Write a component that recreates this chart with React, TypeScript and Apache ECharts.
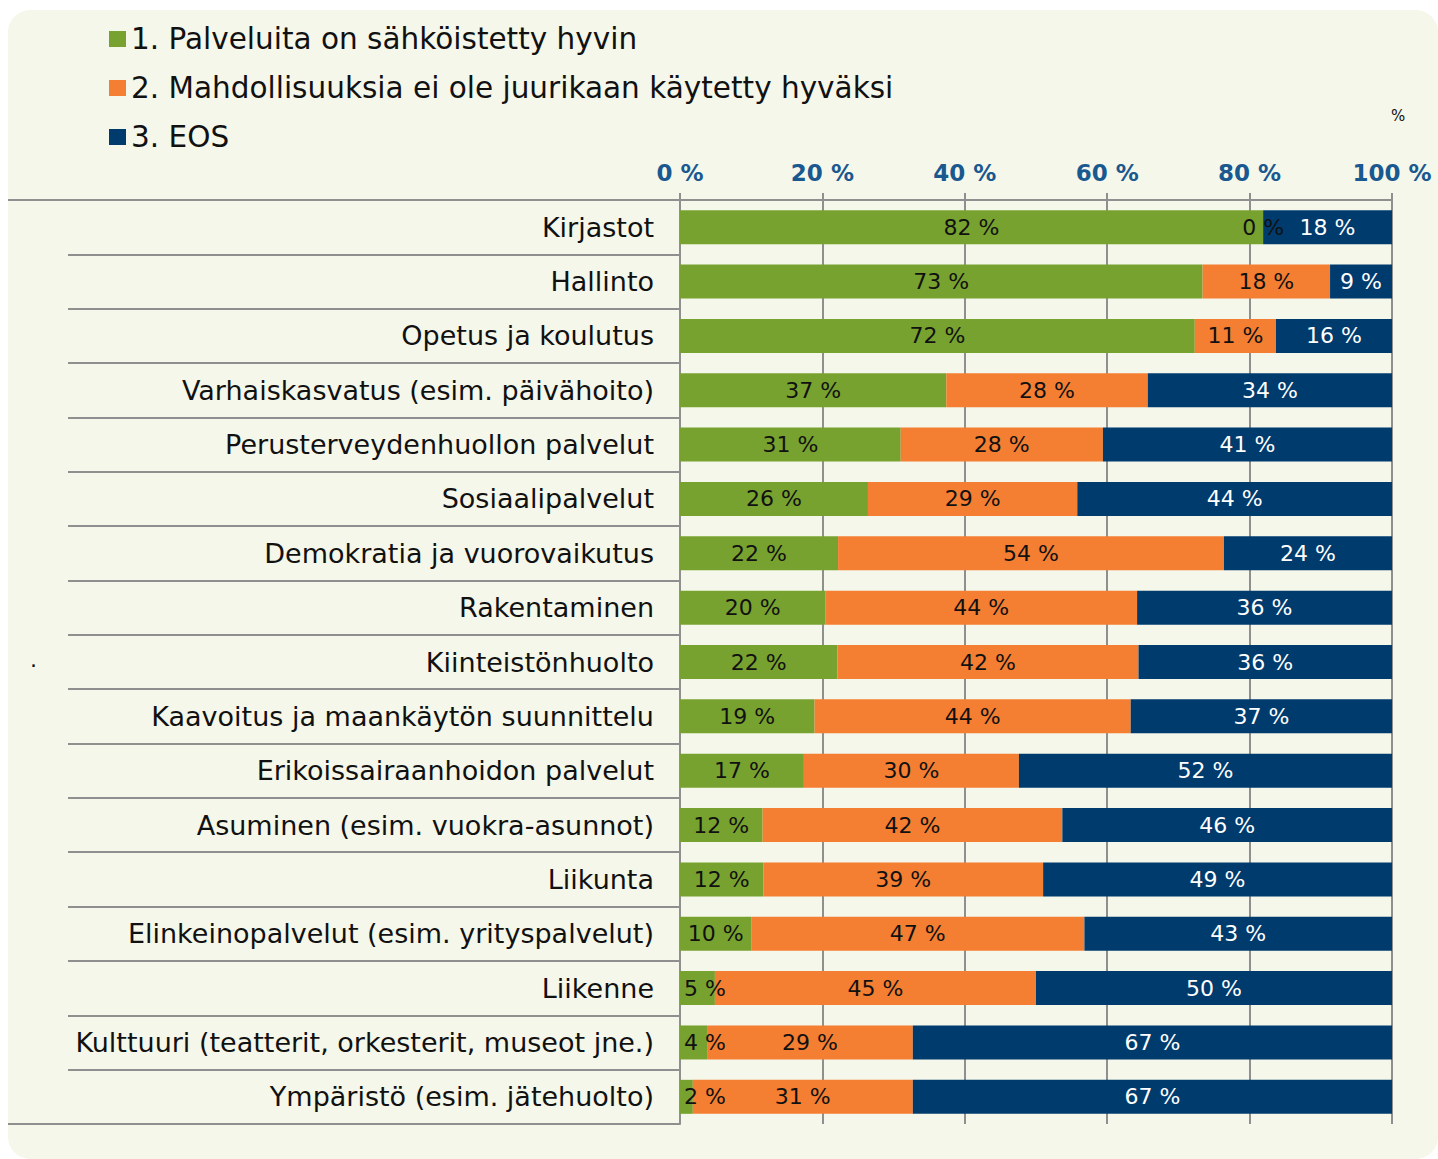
import React, { useEffect, useRef } from "react";
import * as echarts from "echarts";

const categories = [
  "Kirjastot",
  "Hallinto",
  "Opetus ja koulutus",
  "Varhaiskasvatus (esim. päivähoito)",
  "Perusterveydenhuollon palvelut",
  "Sosiaalipalvelut",
  "Demokratia ja vuorovaikutus",
  "Rakentaminen",
  "Kiinteistönhuolto",
  "Kaavoitus ja maankäytön suunnittelu",
  "Erikoissairaanhoidon palvelut",
  "Asuminen (esim. vuokra-asunnot)",
  "Liikunta",
  "Elinkeinopalvelut (esim. yrityspalvelut)",
  "Liikenne",
  "Kulttuuri (teatterit, orkesterit, museot jne.)",
  "Ympäristö (esim. jätehuolto)",
];

const seriesNames = [
  "1. Palveluita on sähköistetty hyvin",
  "2. Mahdollisuuksia ei ole juurikaan käytetty hyväksi",
  "3. EOS",
];

const good = [81.9, 73.4, 72.3, 37.4, 31.0, 26.4, 22.2, 20.4, 22.1, 18.9, 17.4, 11.6, 11.7, 10.0, 4.9, 3.8, 1.8];
const unused = [0, 17.9, 11.4, 28.3, 28.4, 29.4, 54.2, 43.8, 42.3, 44.4, 30.2, 42.1, 39.3, 46.8, 45.1, 28.9, 30.9];
const eos = [18.1, 8.7, 16.3, 34.3, 40.6, 44.2, 23.6, 35.8, 35.6, 36.7, 52.4, 46.3, 49.0, 43.2, 50.0, 67.3, 67.3];

const xTicks = [0, 20, 40, 60, 80, 100];

const colors = ["#78a22f", "#f47e32", "#003b6e"];
const labelColors = ["#111111", "#111111", "#ffffff"];
const FONT = "DejaVu Sans";

export default function App() {
  const ref = useRef<HTMLDivElement>(null);

  useEffect(() => {
    document.body.style.margin = "0";
    const chart = echarts.init(ref.current!, null, { renderer: "svg" });
    const dataSets = [good, unused, eos];
    chart.setOption({
      animation: false,
      textStyle: { fontFamily: FONT },
      graphic: [
        {
          type: "rect",
          z: -10,
          silent: true,
          shape: { x: 8, y: 10, width: 1430, height: 1149, r: 22 },
          style: { fill: "#f5f7ea" },
        },
        {
          type: "line",
          shape: { x1: 8, y1: 200, x2: 70, y2: 200 },
          style: { stroke: "#8f8f8f", lineWidth: 2 },
        },
        {
          type: "line",
          shape: { x1: 8, y1: 1124, x2: 70, y2: 1124 },
          style: { stroke: "#8f8f8f", lineWidth: 2 },
        },
        {
          type: "text",
          x: 1391,
          y: 108,
          style: { text: "%", fontSize: 15, fill: "#111", fontFamily: FONT },
        },
        {
          type: "text",
          x: 30,
          y: 648,
          style: { text: ".", fontSize: 22, fill: "#111", fontFamily: FONT },
        },
      ],
      legend: {
        orient: "vertical",
        left: 109,
        top: 24,
        padding: 0,
        itemWidth: 17,
        itemHeight: 16,
        itemGap: 19,
        icon: "rect",
        data: seriesNames,
        textStyle: { fontSize: 29.5, color: "#111", fontFamily: FONT },
        selectedMode: false,
      },
      grid: { left: 680, right: 46, top: 200, bottom: 35, containLabel: false },
      xAxis: {
        type: "value",
        position: "top",
        min: xTicks[0],
        max: xTicks[xTicks.length - 1],
        interval: 20,
        axisLine: { show: true, lineStyle: { color: "#8f8f8f", width: 2 } },
        axisTick: { show: true, length: 7, lineStyle: { color: "#8f8f8f", width: 2 } },
        splitLine: { show: true, lineStyle: { color: "#8f8f8f", width: 2 } },
        axisLabel: {
          formatter: "{value} %",
          fontSize: 23,
          fontWeight: "bold",
          color: "#1a5890",
          margin: 16,
          fontFamily: FONT,
        },
      },
      yAxis: {
        type: "category",
        inverse: true,
        data: categories,
        axisLine: { show: true, lineStyle: { color: "#8f8f8f", width: 2 } },
        axisTick: { show: true, length: 612, lineStyle: { color: "#8f8f8f", width: 2 } },
        axisLabel: { fontSize: 27, color: "#111", margin: 26, fontFamily: FONT },
      },
      series: seriesNames.map((name, i) => ({
        name,
        type: "bar",
        stack: "total",
        barWidth: 34,
        data: dataSets[i],
        itemStyle: { color: colors[i] },
        label: {
          show: true,
          position: "inside",
          color: labelColors[i],
          fontSize: 22,
          fontFamily: FONT,
          formatter: (p: any) => `${Math.round(p.value)} %`,
        },
        labelLayout: (params: any) => {
          const r = params.labelRect;
          if (r && r.x < 684) {
            return {
              x: 684,
              y: r.y + r.height / 2,
              align: "left",
              verticalAlign: "middle",
            };
          }
          return {};
        },
      })),
    });
    return () => chart.dispose();
  }, []);

  return <div ref={ref} style={{ width: 1438, height: 1159 }} />;
}
